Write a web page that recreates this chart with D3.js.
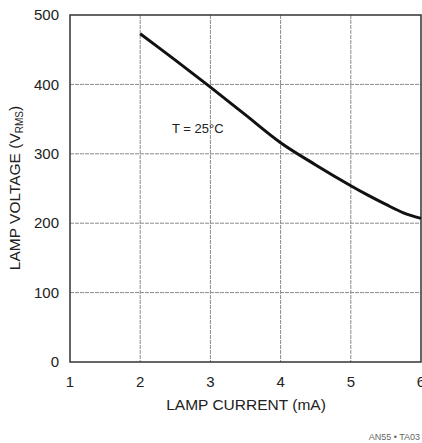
<!DOCTYPE html>
<html>
<head>
<meta charset="utf-8">
<script src="https://cdn.jsdelivr.net/npm/d3@7"></script>
<style>
  body { margin: 0; background: #fff; }
  svg { display: block; }
  text { font-family: "Liberation Sans", Arial, sans-serif; fill: #222; }
</style>
</head>
<body>
<div id="chart"></div>
<script>
// data
var current = [2, 2.5, 3, 3.5, 4, 4.5, 5, 5.25, 5.5, 5.75, 6];
var voltage = [473, 435, 396, 356, 316, 284, 254, 240, 227, 215, 207];
var xTicks = [1, 2, 3, 4, 5, 6];
var yTicks = [0, 100, 200, 300, 400, 500];

var width = 422, height = 443;

var svg = d3.select("#chart").append("svg")
  .attr("width", width)
  .attr("height", height);

var x = d3.scaleLinear().domain([1, 6]).range([70, 421]);
var y = d3.scaleLinear().domain([0, 500]).range([362, 15]);

// grid
svg.append("g").selectAll("line")
  .data(xTicks.slice(1, -1))
  .join("line")
  .attr("x1", d => x(d)).attr("x2", d => x(d))
  .attr("y1", y(500)).attr("y2", y(0))
  .attr("stroke", "#8a8a8a")
  .attr("stroke-width", 1)
  .attr("stroke-dasharray", "4,1");

svg.append("g").selectAll("line")
  .data(yTicks.slice(1, -1))
  .join("line")
  .attr("x1", x(1)).attr("x2", x(6))
  .attr("y1", d => y(d)).attr("y2", d => y(d))
  .attr("stroke", "#8a8a8a")
  .attr("stroke-width", 1)
  .attr("stroke-dasharray", "4,1");

// frame
svg.append("rect")
  .attr("x", x(1)).attr("y", y(500))
  .attr("width", x(6) - x(1)).attr("height", y(0) - y(500))
  .attr("fill", "none")
  .attr("stroke", "#333")
  .attr("stroke-width", 1.5);

// tick labels
svg.append("g").selectAll("text")
  .data(yTicks)
  .join("text")
  .attr("x", 59)
  .attr("y", d => y(d))
  .attr("dy", "0.35em")
  .attr("text-anchor", "end")
  .attr("font-size", 15)
  .text(d => d);

svg.append("g").selectAll("text")
  .data(xTicks)
  .join("text")
  .attr("x", d => x(d))
  .attr("y", 387)
  .attr("text-anchor", "middle")
  .attr("font-size", 15)
  .text(d => d);

// axis titles
svg.append("text")
  .attr("x", 246).attr("y", 410)
  .attr("text-anchor", "middle")
  .attr("font-size", 15.5)
  .text("LAMP CURRENT (mA)");

var yl = svg.append("text")
  .attr("transform", "translate(20,188) rotate(-90)")
  .attr("text-anchor", "middle")
  .attr("font-size", 15.5);
yl.append("tspan").text("LAMP VOLTAGE (V");
yl.append("tspan").attr("font-size", 10).attr("dy", 3).text("RMS");
yl.append("tspan").attr("dy", -3).text(")");

// curve
var line = d3.line()
  .x((d, i) => x(current[i]))
  .y(d => y(d))
  .curve(d3.curveCatmullRom);

svg.append("path")
  .datum(voltage)
  .attr("d", line)
  .attr("fill", "none")
  .attr("stroke", "#111")
  .attr("stroke-width", 3);

svg.append("text")
  .attr("x", 172).attr("y", 133)
  .attr("font-size", 13)
  .text("T = 25°C");

svg.append("text")
  .attr("x", 420).attr("y", 440)
  .attr("text-anchor", "end")
  .attr("font-size", 9)
  .style("fill", "#666")
  .text("AN55 • TA03");
</script>
</body>
</html>
